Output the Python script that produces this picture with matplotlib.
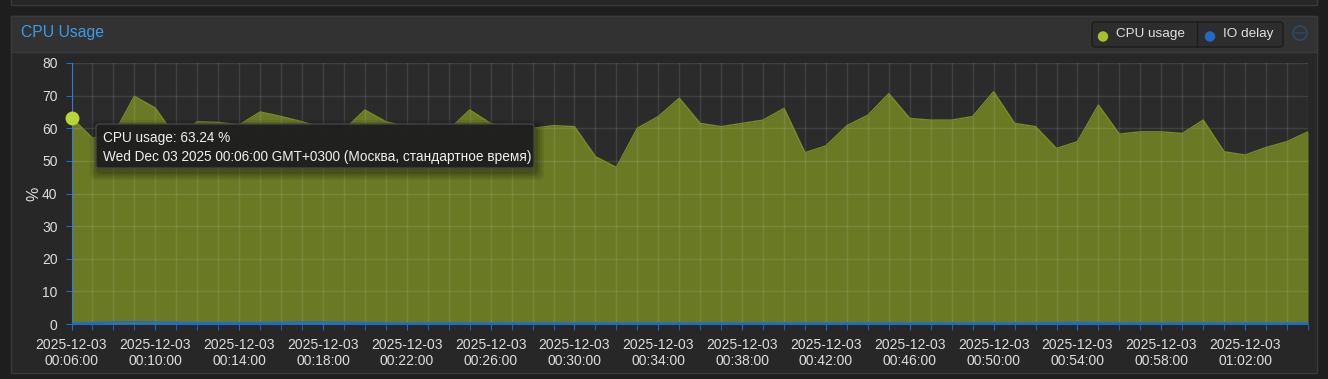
import matplotlib
matplotlib.use("Agg")
import matplotlib.pyplot as plt
import matplotlib.dates as mdates
from matplotlib.patches import Rectangle, FancyBboxPatch, Circle
import pandas as pd

plt.rcParams['font.family'] = ['Liberation Sans', 'DejaVu Sans']

# данные (читаются с графика)
times = pd.date_range("2025-12-03 00:06:00", periods=60, freq="1min")
cpu_usage = [63.24, 57.0, 58.0, 69.8, 66.2, 57.0, 62.0, 61.8, 61.0, 65.0,
             63.6, 62.0, 60.0, 59.5, 65.6, 62.0, 60.5, 61.0, 59.5, 65.6,
             61.5, 60.0, 60.0, 60.8, 60.5, 51.3, 48.0, 60.0, 63.6, 69.2,
             61.5, 60.5, 61.5, 62.5, 66.1, 52.5, 54.6, 60.8, 64.0, 70.6,
             63.0, 62.5, 62.5, 63.6, 71.2, 61.5, 60.5, 53.8, 55.9, 67.1,
             58.2, 58.9, 58.9, 58.4, 62.5, 52.8, 51.8, 54.1, 55.9, 58.9]
io_delay = [0.2, 0.3, 0.5, 0.6, 0.5, 0.4, 0.3, 0.3, 0.3, 0.3,
            0.4, 0.5, 0.5, 0.4, 0.3, 0.2, 0.2, 0.2, 0.2, 0.2,
            0.2, 0.2, 0.2, 0.2, 0.2, 0.2, 0.2, 0.2, 0.2, 0.2,
            0.2, 0.2, 0.2, 0.2, 0.2, 0.2, 0.2, 0.2, 0.2, 0.2,
            0.2, 0.2, 0.2, 0.2, 0.2, 0.2, 0.2, 0.3, 0.4, 0.3,
            0.2, 0.2, 0.2, 0.2, 0.2, 0.2, 0.2, 0.2, 0.2, 0.2]
y_ticks = [0, 10, 20, 30, 40, 50, 60, 70, 80]
tooltip_lines = ["CPU usage: 63.24 %",
                 "Wed Dec 03 2025 00:06:00 GMT+0300 (Москва, стандартное время)"]
legend_items = [("CPU usage", "#a6c22b"), ("IO delay", "#1f6cc8")]

W, H = 1328, 379
fig = plt.figure(figsize=(W / 100, H / 100), dpi=100, facecolor="#1e1e1e")

# фон панели (в пикселях)
bg = fig.add_axes([0, 0, 1, 1], zorder=0)
bg.set_xlim(0, W)
bg.set_ylim(H, 0)
bg.axis("off")
bg.add_patch(Rectangle((11, -5), 1306, 10, facecolor="#262626", edgecolor="#3a3a3a", lw=1))
bg.add_patch(Rectangle((11, 16), 1306, 357, facecolor="#272727", edgecolor="#3a3a3a", lw=1))
bg.add_patch(Rectangle((11, 16), 1306, 36, facecolor="#323232", edgecolor="#3a3a3a", lw=1))
bg.text(21, 33, "CPU Usage", color="#3d9be6", fontsize=11.3, va="center", ha="left")

# основной график
left, right, top, bottom = 71.5, 1308, 63, 324
ax = fig.add_axes([left / W, (H - bottom) / H, (right - left) / W, (bottom - top) / H], zorder=1)
ax.set_facecolor("#2b2b2b")
ax.fill_between(times, cpu_usage, 0, color="#6a7a24", lw=0, zorder=2)
ax.plot(times, cpu_usage, color="#788c27", lw=1, zorder=3)
ax.plot(times, io_delay, color="#1f6cc8", lw=1.6, zorder=4)
ax.plot(times[0], cpu_usage[0], "o", ms=9, color="#b9d436", mec="#b9d436", zorder=6, clip_on=False)

ax.set_xlim(times[0], times[-1])
ax.set_ylim(0, 80)
ax.set_yticks(y_ticks)
ax.xaxis.set_major_locator(mdates.MinuteLocator(byminute=range(2, 60, 4)))
ax.xaxis.set_minor_locator(mdates.MinuteLocator())
ax.xaxis.set_major_formatter(mdates.DateFormatter("%Y-%m-%d\n%H:%M:%S"))
ax.grid(True, which="both", axis="x", color="white", alpha=0.1, lw=1, zorder=5)
ax.grid(True, which="major", axis="y", color="white", alpha=0.1, lw=1, zorder=5)
ax.set_axisbelow(False)
for s in ["top", "right"]:
    ax.spines[s].set_visible(False)
ax.spines["left"].set_color("#1f6cc8")
ax.spines["bottom"].set_color("#1f6cc8")
ax.tick_params(axis="both", which="both", colors="#1f6cc8", labelcolor="#dddddd", labelsize=10, length=4)
ax.tick_params(axis="x", which="major", pad=6)
ax.tick_params(axis="y", pad=6)
for lab in ax.get_xticklabels():
    lab.set_linespacing(1.15)
ax.set_ylabel("%", color="#dddddd", fontsize=11.5)
ax.yaxis.set_label_coords(-0.0247, 0.5)

# слой поверх: подсказка и легенда
ov = fig.add_axes([0, 0, 1, 1], zorder=3)
ov.set_xlim(0, W)
ov.set_ylim(H, 0)
ov.axis("off")
ov.patch.set_alpha(0)

tx0, ty0, tx1, ty1 = 96, 124, 534, 168
for i, a in enumerate([0.08, 0.08, 0.1, 0.12]):
    g = 8 - 2 * i
    ov.add_patch(FancyBboxPatch((tx0 - g + 2, ty0 - g + 4), (tx1 - tx0) + 2 * g, (ty1 - ty0) + 2 * g,
                                boxstyle="round,pad=0,rounding_size=6", facecolor="black", alpha=a, lw=0))
ov.add_patch(FancyBboxPatch((tx0, ty0), tx1 - tx0, ty1 - ty0, boxstyle="round,pad=0,rounding_size=3",
                            facecolor="#1f1f1f", edgecolor="#454545", lw=1, alpha=0.96))
ov.text(103, 138, tooltip_lines[0], color="#f0f0f0", fontsize=9.8, va="center", ha="left")
ov.text(103, 157, tooltip_lines[1], color="#f0f0f0", fontsize=9.8, va="center", ha="left")

# легенда
ov.add_patch(FancyBboxPatch((1092, 22), 191, 25, boxstyle="round,pad=0,rounding_size=3",
                            facecolor="#2d2d2d", edgecolor="#1c1c1c", lw=1))
ov.plot([1197, 1197], [22, 47], color="#1c1c1c", lw=1)
lx = [1103, 1210]
for (name, col), x in zip(legend_items, lx):
    ov.add_patch(Circle((x, 36.5), 4.5, color=col))
    ov.text(x + 13, 34.5, name, color="#e0e0e0", fontsize=9.7, va="center", ha="left")
ov.add_patch(Circle((1300, 33), 7, facecolor="none", edgecolor="#2c4a64", lw=1.2))
ov.plot([1296, 1304], [33, 33], color="#2c4a64", lw=1.2)

fig.savefig("out.png", dpi=100, facecolor=fig.get_facecolor())
